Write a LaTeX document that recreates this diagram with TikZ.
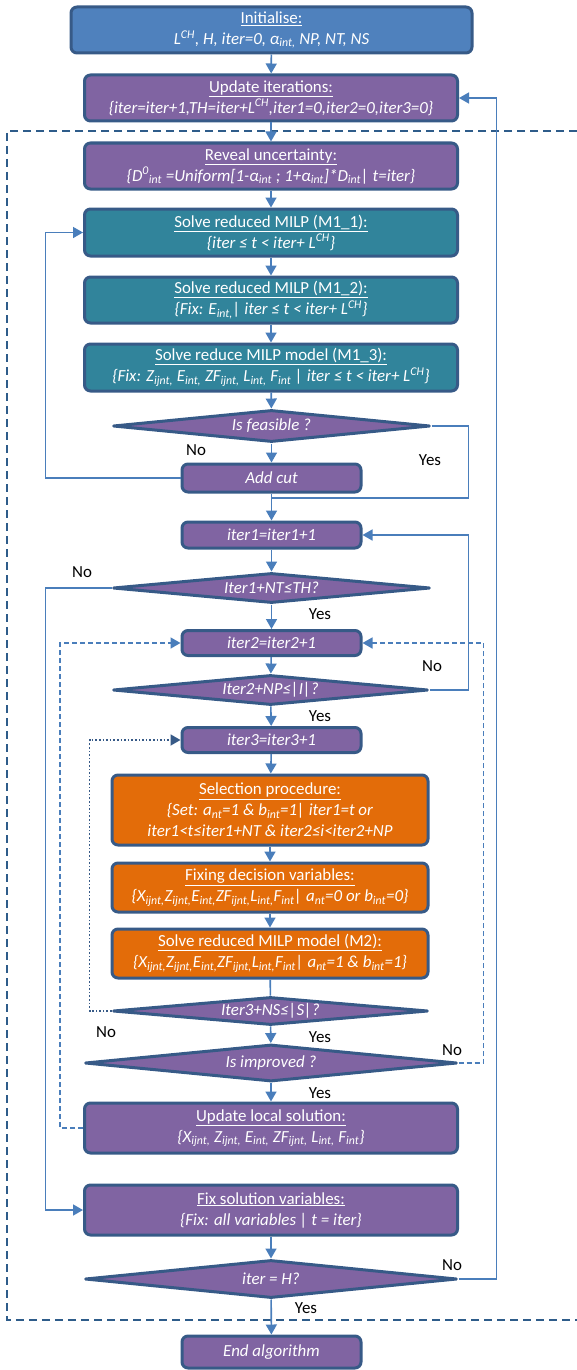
\documentclass[tikz,border=0pt]{standalone}
\usepackage{fontspec}
\setmainfont{Carlito}
\usetikzlibrary{shapes.geometric,arrows.meta}
\definecolor{cblue}{HTML}{4F81BD}
\definecolor{cpurple}{HTML}{8064A2}
\definecolor{cteal}{HTML}{31849B}
\definecolor{corange}{HTML}{E36C09}
\definecolor{bord}{HTML}{375A87}
\definecolor{cline}{HTML}{4A7EBB}
\definecolor{cdash}{HTML}{2E5C8A}
\newcommand{\fsz}{\fontsize{16.9}{21}\selectfont}
\newcommand{\sub}[1]{\textsubscript{#1}}
\newcommand{\sups}[1]{\textsuperscript{#1}}
\tikzset{
 box/.style={draw=bord, line width=3pt, rounded corners=6pt, text=white, align=center, inner sep=0pt, font=\fsz},
 bluebox/.style={box, fill=cblue},
 purplebox/.style={box, fill=cpurple},
 tealbox/.style={box, fill=cteal},
 orangebox/.style={box, fill=corange},
 dia/.style={diamond, draw=bord, line width=3pt, line join=round, fill=cpurple, text=white, inner sep=0pt, aspect=10, font=\fsz\itshape},
 ln/.style={draw=cline, line width=1.6pt},
 arr/.style={ln, -{Triangle[length=10pt,width=11pt]}},
 lab/.style={font=\fsz, text=black, inner sep=0pt}
}
\begin{document}
\begin{tikzpicture}[x=1pt,y=-1pt]
\useasboundingbox (0,0) rectangle (577,1370);
% dashed frame
\draw[cdash, line width=1.8pt, dash pattern=on 8pt off 5pt] (577,131) -- (7,131) -- (7,1320) -- (577,1320);

\node[bluebox, minimum width=401, minimum height=46] (init) at (271.5,30) {\underline{Initialise:}\\\textit{L\sups{CH}, H, iter=0, α\sub{int,} NP, NT, NS}};
\node[purplebox, minimum width=373, minimum height=46] (upd) at (271,98) {\underline{Update iterations:}\\\textit{\{iter=iter+1,TH=iter+L\sups{CH},iter1=0,iter2=0,iter3=0\}}};
\node[purplebox, minimum width=373, minimum height=46] (rev) at (271,166) {\underline{Reveal uncertainty:}\\\textit{\{D\sups{0}\sub{int} =Uniform[1-α\sub{int} ; 1+α\sub{int}]*D\sub{int}| t=iter\}}};
\node[tealbox, minimum width=373, minimum height=47] (m11) at (271,232.5) {\underline{Solve reduced MILP (M1\_1):}\\\textit{\{iter ≤ t < iter+ L\sups{CH}\}}};
\node[tealbox, minimum width=373, minimum height=46] (m12) at (271,300) {\underline{Solve reduced MILP (M1\_2):}\\\textit{\{Fix: E\sub{int,}| iter ≤ t < iter+ L\sups{CH}\}}};
\node[tealbox, minimum width=373, minimum height=47] (m13) at (271,367.5) {\underline{Solve reduce MILP model (M1\_3):}\\\textit{\{Fix: Z\sub{ijnt,} E\sub{int,} ZF\sub{ijnt,} L\sub{int,} F\sub{int} | iter ≤ t < iter+ L\sups{CH}\}}};
\node[dia, minimum width=317, minimum height=32] (feas) at (271.5,426) {Is feasible ?};
\node[purplebox, minimum width=179, minimum height=28] (cut) at (271.5,478) {\textit{Add cut}};
\node[purplebox, minimum width=179, minimum height=26] (it1) at (271.5,535) {\textit{iter1=iter1+1}};
\node[dia, minimum width=317, minimum height=30] (d1) at (271.5,588) {Iter1+NT≤TH?};
\node[purplebox, minimum width=179, minimum height=25] (it2) at (271.5,643) {\textit{iter2=iter2+1}};
\node[dia, minimum width=315, minimum height=30] (d2) at (270.5,690) {Iter2+NP≤|I|?};
\node[purplebox, minimum width=179, minimum height=25] (it3) at (271.5,740) {\textit{iter3=iter3+1}};
\node[orangebox, minimum width=316, minimum height=70] (sel) at (270,810) {\underline{Selection procedure:}\\\textit{\{Set: a\sub{nt}=1 \& b\sub{int}=1| iter1=t or}\\\textit{iter1<t≤iter1+NT \& iter2≤i<iter2+NP}};
\node[orangebox, minimum width=316, minimum height=49] (fix) at (270,887.5) {\underline{Fixing decision variables:}\\\textit{\{X\sub{ijnt,}Z\sub{ijnt,}E\sub{int,}ZF\sub{ijnt,}L\sub{int,}F\sub{int}| a\sub{nt}=0 or b\sub{int}=0\}}};
\node[orangebox, minimum width=316, minimum height=49] (m2) at (270,953.5) {\underline{Solve reduced MILP model (M2):}\\\textit{\{X\sub{ijnt,}Z\sub{ijnt,}E\sub{int,}ZF\sub{ijnt,}L\sub{int,}F\sub{int}| a\sub{nt}=1 \& b\sub{int}=1\}}};
\node[dia, minimum width=315, minimum height=28] (d3) at (270.5,1011) {Iter3+NS≤|S|?};
\node[dia, minimum width=372, minimum height=37] (impr) at (271,1063) {Is improved ?};
\node[purplebox, minimum width=373, minimum height=50] (upl) at (271,1128) {\underline{Update local solution:}\\\textit{\{X\sub{ijnt,} Z\sub{ijnt,} E\sub{int,} ZF\sub{ijnt,} L\sub{int,} F\sub{int}\}}};
\node[purplebox, minimum width=373, minimum height=50] (fsv) at (271,1210) {\underline{Fix solution variables:}\\\textit{\{Fix: all variables | t = iter\}}};
\node[dia, minimum width=372, minimum height=38] (dH) at (271,1279) {iter = H?};
\node[purplebox, minimum width=179, minimum height=32] (end) at (271.5,1352) {\textit{End algorithm}};

\coordinate (j1) at (271.5,498);

% main flow
\draw[arr] (init) -- (upd);
\draw[arr] (upd) -- (rev);
\draw[arr] (rev) -- (m11);
\draw[arr] (m11) -- (m12);
\draw[arr] (m12) -- (m13);
\draw[arr] (m13) -- (feas);
\draw[arr] (feas) -- (cut);
\draw[ln] (cut.south) -- (j1);
\draw[arr] (j1) -- (it1);
\draw[arr] (cut.west) -- ++(-135,0) |- (m11.west);
\draw[ln] (feas.east) -- ++(37,0) |- (j1);
\draw[arr] (it1) -- (d1);
\draw[arr] (d1) -- (it2);
\draw[arr] (d1.west) -- ++(-66,0) |- (fsv.west);
\draw[arr] (it2) -- (d2);
\draw[arr] (d2) -- (it3);
\draw[arr] (d2.east) -- ++(39,0) |- (it1.east);
\draw[arr] (it3) -- (sel);
\draw[arr] (sel) -- (fix);
\draw[arr] (fix) -- (m2);
\draw[ln] (m2) -- (d3);
\draw[arr] (d3) -- (impr);
\draw[arr, draw=bord, dotted, line width=1.8pt] (d3.west) -- ++(-22,0) |- (it3.west);
\draw[arr] (impr) -- (upl);
\draw[arr, dash pattern=on 5pt off 3pt] (impr.east) -- ++(25,0) |- (it2.east);
\draw[arr, dash pattern=on 5pt off 3pt] (upl.west) -- ++(-23,0) |- (it2.west);
\draw[arr] (fsv) -- (dH);
\draw[arr] (dH) -- (end);
\draw[arr] (dH.east) -- ++(38,0) |- (upd.east);

% labels
\node[lab] (lno1) at (196,450) {No};
\node[lab] (lyes1) at (430,460) {Yes};
\node[lab] (lno2) at (82,572) {No};
\node[lab] (lyes2) at (320,614) {Yes};
\node[lab] (lno3) at (432,666) {No};
\node[lab] (lyes3) at (320,716) {Yes};
\node[lab] (lno4) at (106,1032) {No};
\node[lab] (lyes4) at (320,1037) {Yes};
\node[lab] (lno5) at (452,1050) {No};
\node[lab] (lyes5) at (320,1093) {Yes};
\node[lab] (lno6) at (452,1265) {No};
\node[lab] (lyes6) at (306,1308) {Yes};
\end{tikzpicture}
\end{document}
